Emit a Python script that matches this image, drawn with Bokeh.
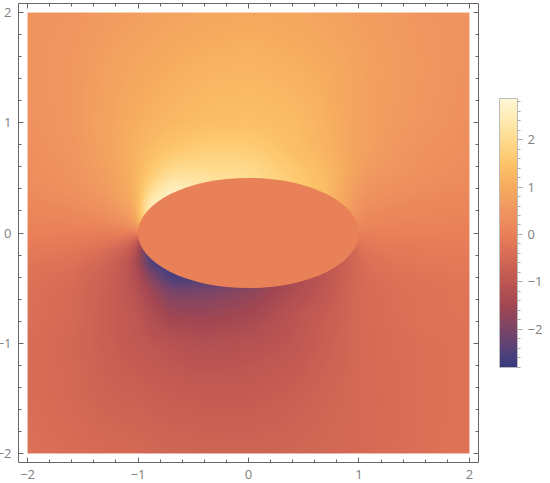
import numpy as np
from bokeh.embed import file_html
from bokeh.resources import INLINE
from bokeh.plotting import figure
from bokeh.models import LinearColorMapper, ColorBar, FixedTicker, LinearAxis, Range1d

# sample positions and values
xs = [-2, -1.6, -1.3, -1.1, -1, -.9, -.7, -.4, 0, .4, .7, .9, 1, 1.1, 1.3, 1.6, 2]
ys = [2, 1.5, 1, .75, .55, .4, .25, .1, 0, -.1, -.25, -.4, -.55, -.75, -1, -1.5, -2]
values = [
 [.45,.5,.6,.65,.7,.72,.8,.88,.95,.9,.8,.72,.65,.65,.6,.5,.45],
 [.45,.55,.72,.85,.9,.95,1.05,1.14,1.18,1.1,1.0,.88,.8,.72,.65,.55,.4],
 [.4,.55,.78,1.0,1.05,1.12,1.24,1.36,1.42,1.32,1.1,.88,.75,.7,.62,.5,.35],
 [.35,.5,.78,1.05,1.2,1.35,1.55,1.72,1.7,1.42,1.15,.9,.78,.7,.55,.4,.3],
 [.3,.45,.7,1.0,1.25,1.55,2.05,2.05,2.0,1.6,1.3,.95,.7,.6,.5,.35,.25],
 [.25,.38,.62,.95,1.3,2.0,2.6,2.4,2.1,1.7,1.35,.8,.58,.48,.36,.26,.2],
 [.15,.25,.45,.8,1.25,2.6,2.8,2.4,2.1,1.7,1.3,.75,.4,.3,.22,.16,.12],
 [.06,.1,.2,.42,1.0,2.7,2.8,2.4,2.1,1.7,1.2,.6,.2,.13,.09,.07,.05],
 [0,-.02,-.03,-.05,-.05,0,0,0,0,0,0,0,0,0,0,0,0],
 [-.08,-.12,-.25,-.5,-1.2,-2.7,-2.8,-2.6,-2.0,-1.4,-1.0,-.6,-.25,-.15,-.1,-.08,-.06],
 [-.2,-.3,-.55,-.95,-1.4,-2.7,-2.8,-2.6,-2.0,-1.4,-1.0,-.7,-.45,-.32,-.22,-.16,-.12],
 [-.3,-.42,-.7,-1.0,-1.3,-1.85,-2.7,-2.6,-2.0,-1.4,-1.0,-.65,-.48,-.42,-.32,-.26,-.2],
 [-.33,-.48,-.75,-.95,-1.15,-1.45,-2.0,-1.95,-1.75,-1.25,-.95,-.6,-.5,-.45,-.38,-.3,-.26],
 [-.36,-.5,-.75,-.92,-1.0,-1.2,-1.55,-1.6,-1.45,-1.05,-.8,-.6,-.5,-.45,-.38,-.3,-.26],
 [-.4,-.55,-.75,-.9,-.95,-1.0,-1.1,-1.2,-1.12,-1.0,-.75,-.58,-.5,-.47,-.42,-.35,-.3],
 [-.4,-.52,-.65,-.7,-.7,-.75,-.8,-.85,-.85,-.75,-.6,-.55,-.5,-.48,-.43,-.36,-.3],
 [-.33,-.42,-.48,-.5,-.5,-.55,-.58,-.6,-.62,-.58,-.55,-.52,-.5,-.48,-.42,-.35,-.28],
]
ellipse_value = 0.02
cbar_ticks = [-2, -1, 0, 1, 2]
axis_ticks = [-2, -1, 0, 1, 2]
color_stops = [-2.81, -2.5, -2, -1.5, -1, -.5, 0, .5, 1, 1.5, 2, 2.5, 2.87]
color_rgb = [(0x36,0x3A,0x80),(0x51,0x41,0x7A),(0x7C,0x45,0x67),(0xA2,0x47,0x52),(0xBE,0x56,0x52),
             (0xD4,0x6A,0x55),(0xE9,0x80,0x58),(0xF0,0x96,0x60),(0xF6,0xAB,0x5F),(0xFD,0xC4,0x69),
             (0xFF,0xDB,0x8E),(0xFF,0xED,0xB8),(0xFF,0xF7,0xD5)]

# palette for the colour bar
t = np.linspace(color_stops[0], color_stops[-1], 256)
rgb = np.array(color_rgb, float)
palette = ["#%02x%02x%02x" % tuple(int(round(np.interp(v, color_stops, rgb[:, i]))) for i in range(3)) for v in t]
mapper = LinearColorMapper(palette=palette, low=color_stops[0], high=color_stops[-1])

# smooth display raster between the sample positions, as a density plot draws it
n = 442
gx = np.linspace(-2, 2, n)
gy = np.linspace(-2, 2, n)
arr = np.array(values, float)[::-1]
ya = np.array(ys, float)[::-1]
tmp = np.array([np.interp(gx, xs, row) for row in arr])
img = np.array([np.interp(gy, ya, tmp[:, j]) for j in range(n)]).T

def soften(a, w, axis):
    pad = [(w, w) if i == axis else (0, 0) for i in range(2)]
    b = np.pad(a, pad, mode="edge")
    return np.apply_along_axis(lambda r: np.convolve(r, np.ones(2 * w + 1) / (2 * w + 1), mode="valid"), axis, b)

for _ in range(2):
    img = soften(soften(img, 5, 0), 5, 1)

minor = [round(-2 + .2 * i, 1) for i in range(21)]

p = figure(frame_width=460, frame_height=459, output_backend="svg", toolbar_location=None,
           x_range=Range1d(-2.082, 2.082), y_range=Range1d(-2.082, 2.082),
           min_border_left=34, min_border_top=3, min_border_bottom=8, min_border_right=0)
p.styles = {"margin-top": "0px", "margin-left": "-16px"}
p.grid.visible = False
p.image(image=[img], x=-2, y=-2, dw=4, dh=4, color_mapper=mapper)
p.ellipse(x=[0], y=[0], width=2, height=1, fill_color=palette[int((ellipse_value - color_stops[0]) / (color_stops[-1] - color_stops[0]) * 255)], line_color=None)

tick = FixedTicker(ticks=axis_ticks, minor_ticks=minor)
p.xaxis.ticker = tick
p.yaxis.ticker = tick
blank = {k: "" for k in axis_ticks}
top_ax = LinearAxis(ticker=tick, major_label_overrides=blank)
right_ax = LinearAxis(ticker=tick, major_label_overrides=blank)
p.add_layout(top_ax, "above")
p.add_layout(right_ax, "right")
for ax in p.xaxis + p.yaxis:
    ax.major_tick_in = 5
    ax.major_tick_out = 0
    ax.minor_tick_in = 3
    ax.minor_tick_out = 0
    ax.axis_line_color = "#666666"
    ax.major_tick_line_color = "#666666"
    ax.minor_tick_line_color = "#666666"
    ax.major_label_text_color = "#808080"
    ax.major_label_text_font = "Open Sans"
    ax.major_label_text_font_size = "13px"
    ax.major_label_standoff = 7
top_ax.major_label_standoff = 0
right_ax.major_label_standoff = 0
p.outline_line_color = None

cb = ColorBar(color_mapper=mapper, width=18, height=269, location=(21, 95),
              ticker=FixedTicker(ticks=cbar_ticks, minor_ticks=minor + [-2.8, -2.6, -2.4, -2.2, 2.2, 2.4, 2.6, 2.8]),
              major_tick_in=0, major_tick_out=5, minor_tick_in=0, minor_tick_out=3,
              major_tick_line_color="#aaaaaa", minor_tick_line_color="#aaaaaa",
              major_label_text_color="#808080", major_label_text_font="Open Sans", major_label_text_font_size="13px",
              label_standoff=5, bar_line_color="#bbbbbb", padding=0)
p.add_layout(cb, "right")

open("out.html", "w").write(file_html(p, INLINE))
